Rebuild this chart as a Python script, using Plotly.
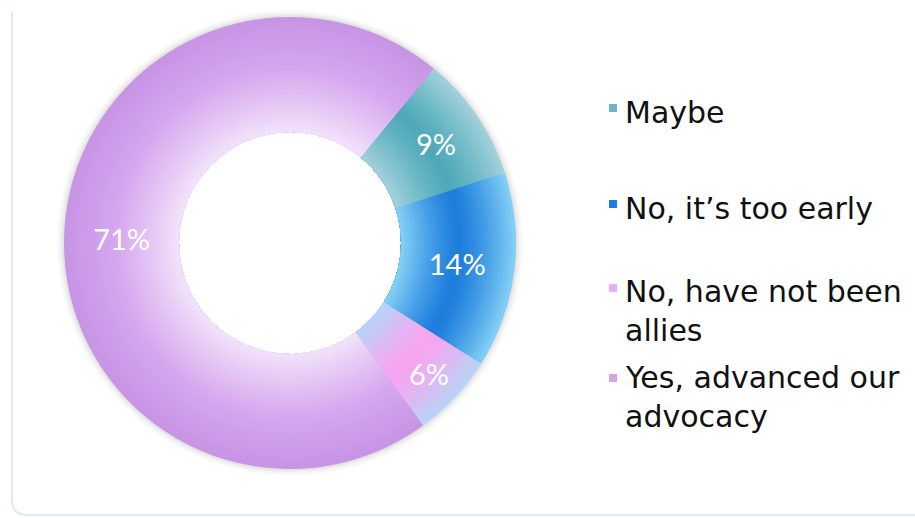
import plotly.graph_objects as go

labels = ["Maybe", "No, it\u2019s too early", "No, have not been allies", "Yes, advanced our advocacy"]
legend_lines = [["Maybe"], ["No, it\u2019s too early"], ["No, have not been", "allies"], ["Yes, advanced our", "advocacy"]]
values = [9, 14, 6, 71]

# colour ramps per slice: (edge colour, centre colour) or inner->outer for last
edge_cols = ["#a3d2db", "#86d2f6", "#b5d5f8", "#f1e2fa"]
mid_cols = ["#4fa9ba", "#1c7ddc", "#f9a4f1", "#d6a6ee"]
outer_last = "#c794e5"
legend_cols = ["#6db6c3", "#1a7fe0", "#e6b2f6", "#d2a4ee"]

W, H = 915, 518
cx, cy = 290, 243
R, r_in = 226, 111


def hex2rgb(h):
    h = h.lstrip('#')
    return [int(h[i:i + 2], 16) for i in (0, 2, 4)]


def mix(a, b, t):
    a, b = hex2rgb(a), hex2rgb(b)
    return "rgb(%d,%d,%d)" % tuple(round(a[i] + (b[i] - a[i]) * t) for i in range(3))


def domain_for(radius):
    return dict(x=[(cx - radius) / W, (cx + radius) / W],
                y=[(H - cy - radius) / H, (H - cy + radius) / H])


fig = go.Figure()

# soft shadow rings
for k, a in [(7, 0.025), (5, 0.03), (3, 0.04), (1.5, 0.05)]:
    fig.add_trace(go.Pie(values=[1], labels=["s"], hole=(r_in + 8) / (R + k), domain=domain_for(R + k),
                         marker=dict(colors=["rgba(60,60,60,%s)" % a], line=dict(width=0)),
                         textinfo="none", hoverinfo="skip", showlegend=False, sort=False))

# radial bands, drawn outermost first, each filled down to the hole
N = 30
for j in range(N, 0, -1):
    rr = r_in + (R - r_in) * j / N
    t = (j - 0.5) / N  # 0 inner -> 1 outer
    cols = []
    for s in range(4):
        if s == 3:
            if t < 0.55:
                cols.append(mix(edge_cols[3], mid_cols[3], min(1, t / 0.55)))
            else:
                cols.append(mix(mid_cols[3], outer_last, (t - 0.55) / 0.45))
        else:
            w = 1 - abs(2 * t - 1) ** 1.3
            cols.append(mix(edge_cols[s], mid_cols[s], w))
    fig.add_trace(go.Pie(values=values, labels=labels, hole=r_in / rr, domain=domain_for(rr),
                         sort=False, direction="clockwise", rotation=39.5,
                         marker=dict(colors=cols, line=dict(width=0)),
                         textinfo="none", hoverinfo="skip", showlegend=False))

# text layer
fig.add_trace(go.Pie(values=values, labels=labels, hole=r_in / R, domain=domain_for(R),
                     sort=False, direction="clockwise", rotation=39.5,
                     marker=dict(colors=["rgba(0,0,0,0)"] * 4, line=dict(width=0)),
                     textinfo="percent", textposition="inside", insidetextorientation="horizontal",
                     insidetextfont=dict(color="white", size=29, family="Lato"),
                     showlegend=False))

# legend drawn as annotations + squares
leg_x = 623
leg_y_top = [99, 196, 278, 364]
sq_ys = [108, 204, 288, 378]
line_h = 39
for i, lines in enumerate(legend_lines):
    for k, ln in enumerate(lines):
        fig.add_annotation(x=leg_x / W, y=1 - (leg_y_top[i] + k * line_h + 13) / H, xref="paper", yref="paper",
                           text=ln, showarrow=False, xanchor="left", yanchor="middle",
                           font=dict(family="DejaVu Sans", size=30, color="#111111"))
    sq_y = sq_ys[i]
    fig.add_shape(type="rect", x0=609 / W, x1=617 / W, y0=1 - (sq_y - 4) / H, y1=1 - (sq_y + 4) / H,
                  xref="paper", yref="paper", fillcolor=legend_cols[i], line=dict(width=0))

# card border
fig.add_shape(type="path", xref="paper", yref="paper",
              path="M %f,%f L %f,%f Q %f,%f %f,%f L %f,%f" % (
                  12 / W, 1 - 12 / H, 12 / W, 1 - 500 / H, 12 / W, 1 - 515 / H, 27 / W, 1 - 515 / H, 1.0, 1 - 515 / H),
              line=dict(color="#d2e4f6", width=1.5))

fig.update_layout(width=W, height=H, margin=dict(l=0, r=0, t=0, b=0),
                  paper_bgcolor="white", plot_bgcolor="white", showlegend=False)

fig.write_html("out.html")
